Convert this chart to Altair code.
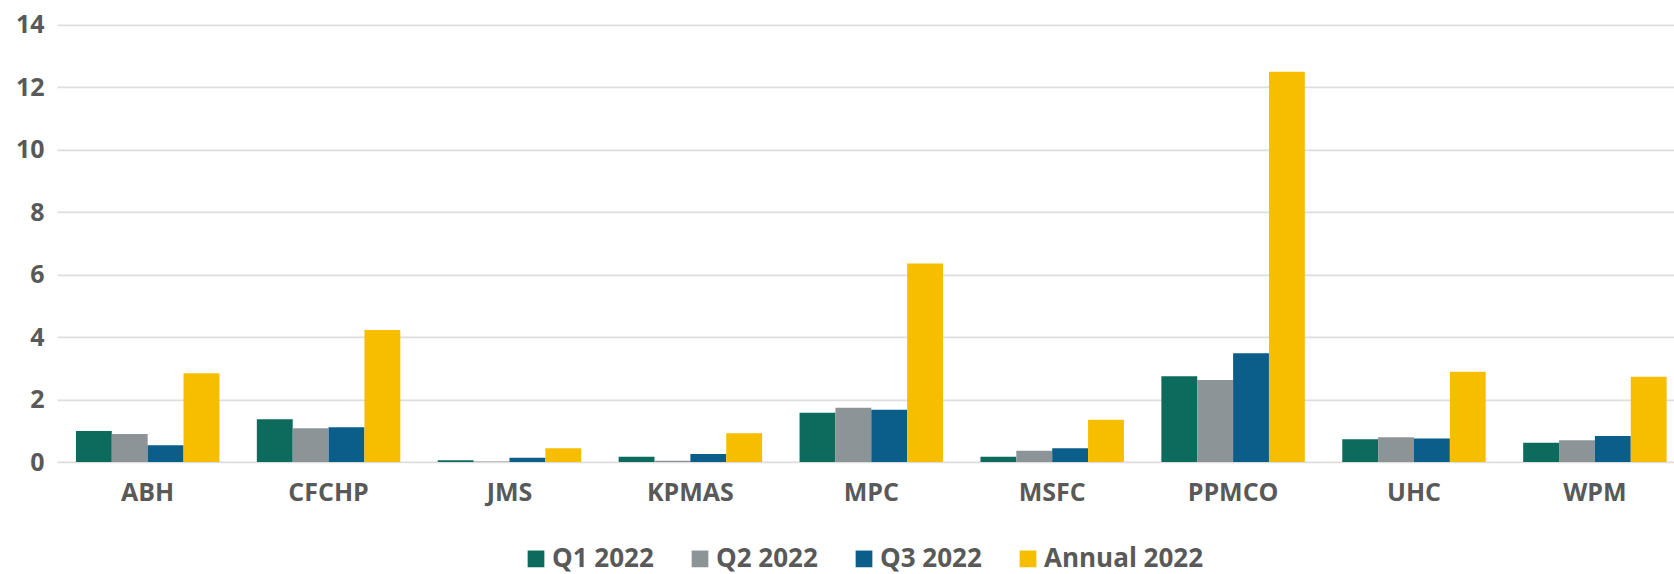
import altair as alt
import pandas as pd

# Plan names along the x axis
plans = ["ABH", "CFCHP", "JMS", "KPMAS", "MPC", "MSFC", "PPMCO", "UHC", "WPM"]

# One value per plan for each reporting period
q1_2022 = [0.99, 1.37, 0.06, 0.17, 1.58, 0.17, 2.75, 0.73, 0.62]
q2_2022 = [0.90, 1.08, 0.02, 0.04, 1.74, 0.36, 2.63, 0.79, 0.70]
q3_2022 = [0.54, 1.11, 0.14, 0.26, 1.67, 0.44, 3.48, 0.75, 0.83]
annual_2022 = [2.84, 4.23, 0.44, 0.92, 6.36, 1.35, 12.50, 2.89, 2.73]

periods = ["Q1 2022", "Q2 2022", "Q3 2022", "Annual 2022"]
period_colors = ["#0d6b5d", "#8c9498", "#0b5e8a", "#f7be00"]
y_ticks = [0, 2, 4, 6, 8, 10, 12, 14]

rows = []
for period, values in zip(periods, [q1_2022, q2_2022, q3_2022, annual_2022]):
    for plan, v in zip(plans, values):
        rows.append({"plan": plan, "period": period, "value": v})
df = pd.DataFrame(rows)

text_color = "#595959"
font = "Open Sans"

chart = (
    alt.Chart(df)
    .mark_bar(strokeWidth=0)
    .encode(
        x=alt.X(
            "plan:N",
            sort=plans,
            title=None,
            scale=alt.Scale(paddingInner=0.207, paddingOuter=0.0727, align=0.72),
            axis=alt.Axis(
                labelAngle=0,
                ticks=False,
                tickSize=0,
                domain=False,
                labelPadding=18,
                labelFont=font,
                labelFontSize=25,
                labelFontWeight="bold",
                labelColor=text_color,
            ),
        ),
        xOffset=alt.XOffset(
            "period:N",
            sort=periods,
            scale=alt.Scale(paddingInner=0, paddingOuter=0),
        ),
        y=alt.Y(
            "value:Q",
            title=None,
            scale=alt.Scale(domain=[0, 14], nice=False),
            axis=alt.Axis(
                values=y_ticks,
                ticks=False,
                tickSize=0,
                domain=False,
                grid=True,
                gridColor="#dedede",
                gridWidth=1.6,
                labelPadding=13,
                labelFont=font,
                labelFontSize=25,
                labelFontWeight="bold",
                labelColor=text_color,
            ),
        ),
        color=alt.Color(
            "period:N",
            sort=periods,
            scale=alt.Scale(domain=periods, range=period_colors),
            legend=alt.Legend(
                title=None,
                orient="none",
                direction="horizontal",
                legendX=466,
                legendY=521,
                symbolType="square",
                symbolSize=280,
                symbolStrokeWidth=0,
                symbolOpacity=1,
                labelOffset=3,
                columnPadding=33,
                labelFont=font,
                labelFontSize=26,
                labelFontWeight="bold",
                labelColor=text_color,
            ),
        ),
    )
    .properties(
        width=1617,
        height=437.1,
        padding={"left": 57, "top": 24.9, "right": 0, "bottom": 112},
        autosize=alt.AutoSizeParams(type="none"),
        background="white",
    )
    .configure_view(stroke=None)
)

chart.save("out.html", embed_options={"renderer": "svg", "actions": False})
